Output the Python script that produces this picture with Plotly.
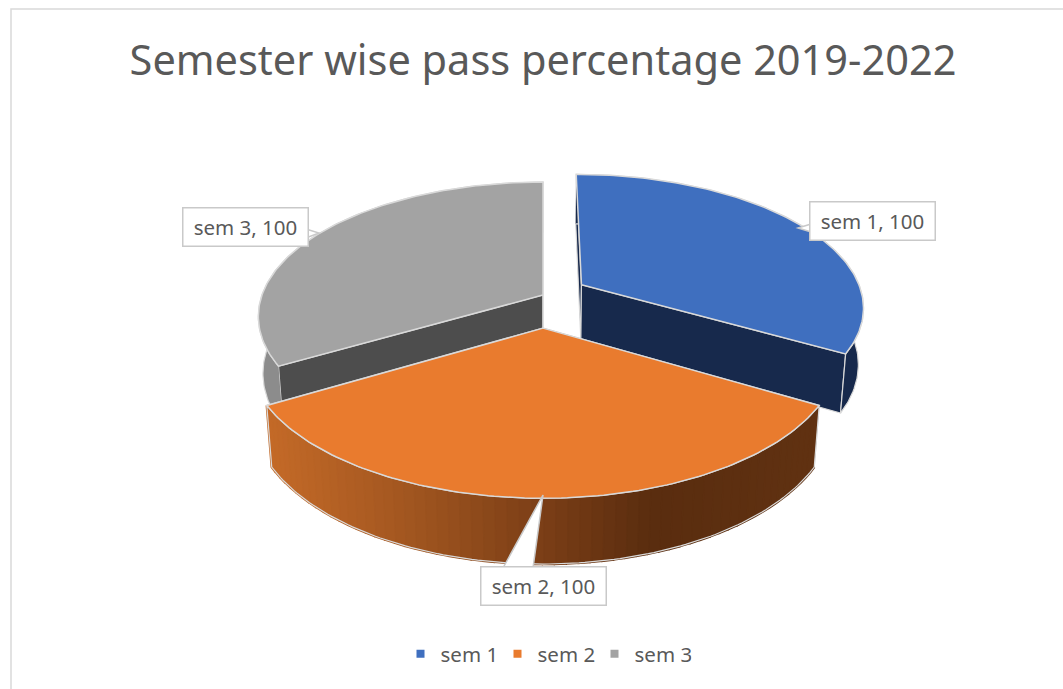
import numpy as np
import plotly.graph_objects as go

#-------------------------------------------------------------------------------
#   Chart data
#-------------------------------------------------------------------------------
categories = ['sem 1', 'sem 2', 'sem 3']
values = [100, 100, 100]
explode = [0.16, 0.243, 0.0]

top_colors = ['#3F6FBF', '#E97B2E', '#A3A3A3']
rim_colors = ['#17294C', None, '#8C8C8C']
face_colors = ['#17294C', '#5C2E0F', '#4D4D4D']

# orange rim has a left to right shade
shade_x = [273, 400, 540, 650, 812]
shade_rgb = [(196, 106, 40), (165, 88, 33), (124, 63, 23), (90, 45, 15), (97, 50, 18)]

#-------------------------------------------------------------------------------
#   Perspective used to project the pie onto the page (page pixels)
#-------------------------------------------------------------------------------
XC, YC = 543, 295
KX, KY, DEPTH = 281, 131, 57
P, Q = 0.16, 0.016
EDGE = '#D9D9D9'


def project(x, v, z=0.0):
    s = 1 / (1 - P * np.asarray(v) + Q * z)
    return XC + KX * np.asarray(x) * s, YC + (KY * np.asarray(v) + DEPTH * z) * s


def polygon(xs, ys, fill, line=None, width=1.0):
    return go.Scatter(
        x=list(xs), y=list(ys), mode='lines', fill='toself', fillcolor=fill,
        line=dict(color=line or fill, width=width),
        hoverinfo='skip', showlegend=False,
    )


fig = go.Figure()
total = sum(values)
edges = np.cumsum([0] + values) / total * 2 * np.pi

# slices are drawn back to front, the big front one last
for i in [2, 0, 1]:
    a0, a1 = edges[i], edges[i + 1]
    mid = (a0 + a1) / 2
    ax, av = explode[i] * np.sin(mid), -explode[i] * np.cos(mid)
    theta = np.linspace(a0, a1, 121)
    rx, rv = ax + np.sin(theta), av - np.cos(theta)

    # cut faces from apex to rim, the rim hides the ones facing away
    for k in [0, -1]:
        fx = [ax, rx[k]]
        fv = [av, rv[k]]
        x_top, y_top = project(fx, fv)
        x_low, y_low = project(fx, fv, 1.0)
        fig.add_trace(polygon(
            np.r_[x_top, x_low[::-1], x_top[0]], np.r_[y_top, y_low[::-1], y_top[0]],
            face_colors[i], EDGE, 1.2,
        ))

    # outer rim
    x_top, y_top = project(rx, rv)
    x_low, y_low = project(rx, rv, 1.0)
    if rim_colors[i]:
        fig.add_trace(polygon(
            np.r_[x_top, x_low[::-1]], np.r_[y_top, y_low[::-1]], rim_colors[i], EDGE, 1.2,
        ))
    else:
        # shaded strips, each one overlaps the last so no seam shows
        step = 2
        for j in range(0, len(theta) - step, step):
            qx = [rx[j], rx[j + step]]
            qv = [rv[j], rv[j + step]]
            tx, ty = project(qx, qv)
            lx, ly = project(qx, qv, 1.0)
            m = (lx[0] + lx[1]) / 2
            rgb = [int(np.interp(m, shade_x, [c[n] for c in shade_rgb])) for n in range(3)]
            col = 'rgb(%d,%d,%d)' % tuple(rgb)
            fig.add_trace(polygon(np.r_[tx, lx[::-1]], np.r_[ty, ly[::-1]], col, col, 2.5))
        fig.add_trace(go.Scatter(
            x=np.r_[x_top, x_low[::-1], x_top[0]], y=np.r_[y_top, y_low[::-1], y_top[0]],
            mode='lines', line=dict(color=EDGE, width=1.2),
            hoverinfo='skip', showlegend=False,
        ))

    # top of the slice
    x_top, y_top = project(np.r_[ax, rx, ax], np.r_[av, rv, av])
    fig.add_trace(polygon(x_top, y_top, top_colors[i], EDGE, 1.5))

# legend entries
for name, col in zip(categories, top_colors):
    fig.add_trace(go.Scatter(
        x=[None], y=[None], mode='markers', name=name,
        marker=dict(symbol='square', size=8, color=col),
    ))

#-------------------------------------------------------------------------------
#   Data labels: box centre and callout tail, in page pixels
#-------------------------------------------------------------------------------
label_box = [(872, 221), (543.5, 586), (245, 227)]
label_tail = [
    'M 811 224 L 798 228 L 811 232 Z',
    'M 503 568 L 543 495 L 533 568 Z',
    'M 306 229 L 319 233 L 306 238 Z',
]
shapes = [
    dict(type='path', path=p, fillcolor='white', line=dict(color='#C9C9C9', width=1.5), layer='above')
    for p in label_tail
]
# chart frame runs off the right and bottom of the picture
shapes.append(dict(
    type='path', path='M 11 689 L 11 9 L 1063 9', fillcolor='rgba(0,0,0,0)',
    line=dict(color='#D9D9D9', width=1.5), layer='below',
))

for (bx, by), name, val in zip(label_box, categories, values):
    fig.add_annotation(
        x=bx, y=by, text=f'{name}, {val}', showarrow=False,
        width=122, height=35, align='center', valign='middle',
        bgcolor='white', bordercolor='#C9C9C9', borderwidth=1.5,
        font=dict(family='Noto Sans', size=20.5, color='#595959'),
    )

fig.update_layout(
    width=1063, height=689,
    margin=dict(l=0, r=0, t=0, b=0),
    paper_bgcolor='white', plot_bgcolor='white',
    title=dict(
        text='Semester wise pass percentage 2019-2022',
        x=543 / 1063, xanchor='center', y=1 - 60 / 689, yanchor='middle',
        font=dict(family='Noto Sans', size=41.5, color='#595959'),
    ),
    xaxis=dict(range=[0, 1063], visible=False, fixedrange=True),
    yaxis=dict(range=[689, 0], visible=False, fixedrange=True),
    shapes=shapes,
    legend=dict(
        orientation='h', x=546 / 1063, xanchor='center', y=1 - 654 / 689, yanchor='middle',
        font=dict(family='Noto Sans', size=20.5, color='#595959'),
        entrywidth=52, entrywidthmode='pixels', bgcolor='rgba(0,0,0,0)',
    ),
)

fig.write_html(
    'out.html',
    config=dict(displayModeBar=False),
    post_script="document.body.style.margin='0';",
)
